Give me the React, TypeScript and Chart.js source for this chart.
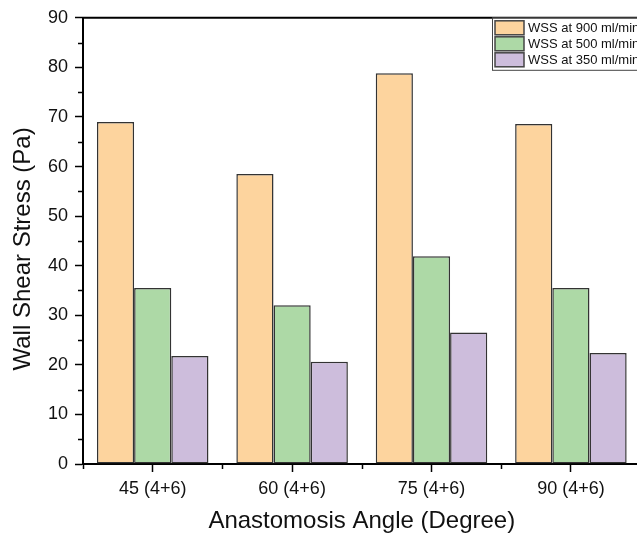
import React, { useEffect, useRef } from "react";
import { Chart, registerables } from "chart.js";

Chart.register(...registerables);

const categories = ["45 (4+6)", "60 (4+6)", "75 (4+6)", "90 (4+6)"];
const seriesLabels = ["WSS at 900 ml/min", "WSS at 500 ml/min", "WSS at 350 ml/min"];
const wss900 = [69.0, 58.5, 78.8, 68.6];
const wss500 = [35.5, 32.0, 41.9, 35.5];
const wss350 = [21.8, 20.6, 26.5, 22.4];
const yMin = 0;
const yMax = 90;
const yStep = 10;
const xTitle = "Anastomosis Angle (Degree)";
const yTitle = "Wall Shear Stress (Pa)";

const fills = ["#FDD49E", "#ADD9A6", "#CDBDDC"];
const FONT = "'Liberation Sans', Arial, sans-serif";

const decorPlugin = {
  id: "decor",
  afterDraw(chart: any) {
    const { ctx, chartArea, scales } = chart;
    const { left, top, right, bottom } = chartArea;
    const x = scales.x;
    const y = scales.y;
    ctx.save();
    // frame top/right
    ctx.strokeStyle = "#000";
    ctx.lineWidth = 2;
    ctx.beginPath();
    ctx.moveTo(left - 1, top);
    ctx.lineTo(right, top);
    ctx.lineTo(right, bottom);
    ctx.stroke();
    // minor y ticks
    ctx.lineWidth = 1.5;
    ctx.beginPath();
    for (let v = yMin + yStep / 2; v < yMax; v += yStep) {
      const py = Math.round(y.getPixelForValue(v)) + 0.5;
      ctx.moveTo(left - 5, py);
      ctx.lineTo(left, py);
    }
    // minor x ticks at category boundaries
    for (let i = 0; i <= categories.length; i++) {
      const px = Math.round(x.getPixelForValue(i - 0.5)) + 0.5;
      ctx.moveTo(px, bottom);
      ctx.lineTo(px, bottom + 5);
    }
    ctx.stroke();

    // y title
    ctx.save();
    ctx.translate(23, (top + bottom) / 2 + 8);
    ctx.rotate(-Math.PI / 2);
    ctx.font = `24px ${FONT}`;
    ctx.fillStyle = "#111";
    ctx.textAlign = "center";
    ctx.textBaseline = "middle";
    ctx.fillText(yTitle, 0, 0);
    ctx.restore();

    // legend
    const lx = 492;
    const ly = top;
    const lw = 200;
    const lh = 52;
    ctx.fillStyle = "#fff";
    ctx.fillRect(lx, ly, lw, lh);
    ctx.strokeStyle = "#444";
    ctx.lineWidth = 1;
    ctx.strokeRect(lx + 0.5, ly + 0.5, lw, lh);
    ctx.font = `13px ${FONT}`;
    ctx.textAlign = "left";
    ctx.textBaseline = "middle";
    chart.data.datasets.forEach((ds: any, i: number) => {
      const ry = ly + 3 + i * 16;
      ctx.fillStyle = ds.backgroundColor;
      ctx.fillRect(lx + 3, ry, 29, 14);
      ctx.strokeStyle = "#444";
      ctx.lineWidth = 1.5;
      ctx.strokeRect(lx + 3, ry, 29, 14);
      ctx.fillStyle = "#111";
      ctx.fillText(ds.label, lx + 36, ry + 7.5);
    });
    ctx.restore();
  },
};

export default function App() {
  const ref = useRef<HTMLCanvasElement>(null);
  useEffect(() => {
    if (!ref.current) return;
    const series = [wss900, wss500, wss350];
    const chart = new Chart(ref.current, {
      type: "bar",
      data: {
        labels: categories,
        datasets: series.map((d, i) => ({
          label: seriesLabels[i],
          data: d,
          backgroundColor: fills[i],
          borderColor: "#333",
          borderWidth: 1.5,
          borderSkipped: false,
          categoryPercentage: 0.8,
          barPercentage: 1.0,
        })),
      },
      options: {
        animation: false,
        responsive: false,
        maintainAspectRatio: false,
        layout: { padding: { left: 0, top: 15, right: 9.4, bottom: 0 } },
        plugins: {
          legend: { display: false },
          tooltip: { enabled: false },
        },
        scales: {
          x: {
            type: "category",
            offset: true,
            afterFit: (s: any) => {
              s.height = 73;
            },
            border: { display: true, color: "#000", width: 2 },
            grid: {
              offset: false,
              drawOnChartArea: false,
              drawTicks: true,
              tickLength: 8,
              tickWidth: 1.5,
              tickColor: "#000",
            },
            ticks: {
              color: "#111",
              padding: 6,
              font: { family: FONT, size: 18 },
            },
            title: {
              display: true,
              text: xTitle,
              color: "#111",
              padding: { top: 0, bottom: 1 },
              font: { family: FONT, size: 24 },
            },
          },
          y: {
            min: yMin,
            max: yMax,
            afterFit: (s: any) => {
              s.width = 83;
            },
            border: { display: true, color: "#000", width: 2 },
            grid: {
              drawOnChartArea: false,
              drawTicks: true,
              tickLength: 8,
              tickWidth: 1.5,
              tickColor: "#000",
            },
            ticks: {
              stepSize: yStep,
              color: "#111",
              padding: 7,
              font: { family: FONT, size: 18 },
            },
          },
        },
      },
      plugins: [decorPlugin],
    });
    return () => chart.destroy();
  }, []);
  return (
    <div
      style={{
        position: "fixed",
        left: 0,
        top: 0,
        width: 637,
        height: 537,
        overflow: "hidden",
        background: "#fff",
      }}
    >
      <canvas ref={ref} width={650} height={537} style={{ display: "block", width: 650, height: 537 }} />
    </div>
  );
}
